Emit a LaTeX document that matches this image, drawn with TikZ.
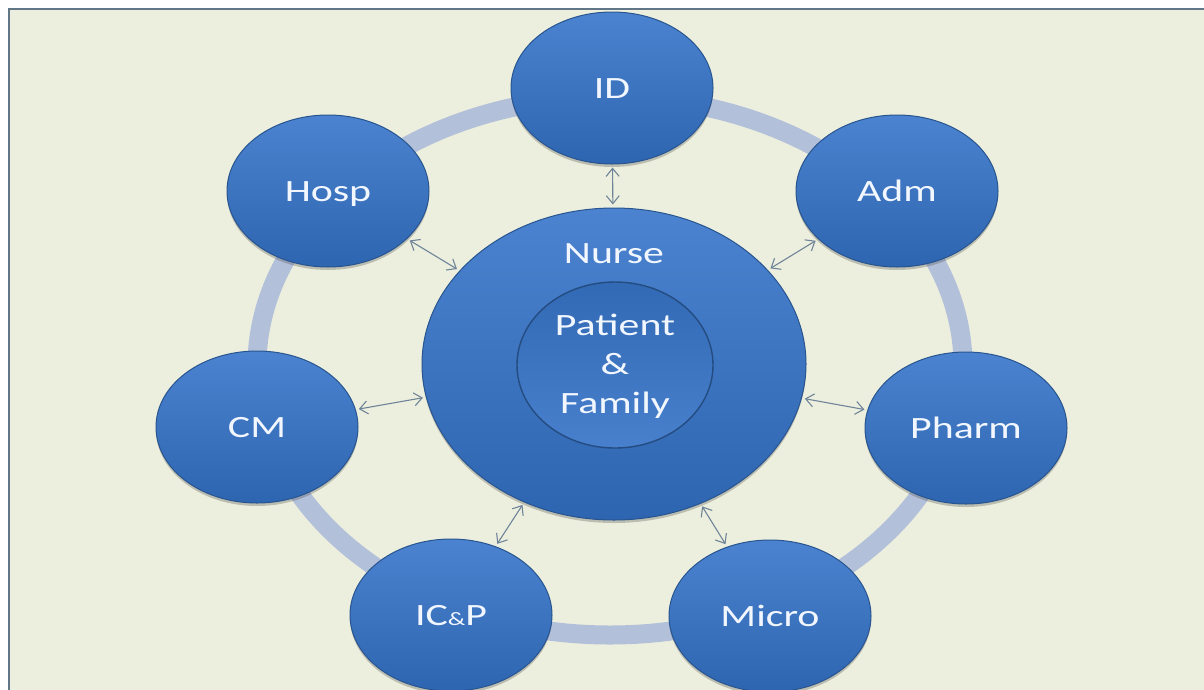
\documentclass[tikz,border=0pt]{standalone}
\usepackage{fontspec}
\newfontfamily\lbl[FakeStretch=1.35]{Carlito}
\usetikzlibrary{shapes.geometric,arrows.meta,shadows}
\definecolor{bgc}{HTML}{EDEFDE}
\definecolor{framec}{HTML}{617787}
\definecolor{ringc}{HTML}{B3C0DA}
\definecolor{topc}{HTML}{4B83D0}
\definecolor{botc}{HTML}{2E65B0}
\definecolor{edgec}{HTML}{28558F}
\definecolor{txtc}{HTML}{F2F7FF}
\definecolor{linkc}{HTML}{6F8498}
\tikzset{
  blob/.style={ellipse, inner sep=0pt, top color=topc, bottom color=botc,
    draw=edgec, line width=1pt,
    drop shadow={shadow xshift=0pt, shadow yshift=-3pt, opacity=0.3, fill=black!70}},
  sat/.style={blob, minimum width=202pt, minimum height=152pt,
    font=\lbl\fontsize{31}{36}\selectfont, text=txtc,
    text height=20pt, text depth=0pt},
  bigblob/.style={blob, minimum width=384pt, minimum height=312pt},
  innerblob/.style={ellipse, inner sep=0pt, minimum width=196pt, minimum height=166pt,
    top color=botc!85!topc, bottom color=topc!90!botc, draw=edgec!90!black, line width=1.4pt},
  lbltxt/.style={font=\lbl\fontsize{31}{39}\selectfont, text=txtc, align=center, inner sep=0pt},
  ring/.style={draw=ringc, line width=19pt},
  link/.style={draw=linkc, line width=1.1pt,
    {Straight Barb[length=8pt,width=13pt]}-{Straight Barb[length=8pt,width=13pt]},
    shorten >=3pt, shorten <=3pt}
}
\begin{document}
\begin{tikzpicture}[x=1pt,y=-1pt]
\useasboundingbox (0,0) rectangle (1204,689);
\clip (0,0) rectangle (1204,689);
\fill[white] (0,0) rectangle (1204,689);
\draw[fill=bgc, draw=framec, line width=2.5pt] (9,9) rectangle (1240,720);
\draw[ring] (610,366) ellipse [x radius=353, y radius=269];

\node[bigblob] (nurse) at (614,364) {};
\node[innerblob] (pfell) at (615,365) {};
\node[lbltxt] (nursetxt) at (614,254) {Nurse};
\node[lbltxt] (pftxt) at (615,366) {Patient\\\&\\Family};

\node[sat] (id)    at (612,88)  {ID};
\node[sat] (adm)   at (897,191) {Adm};
\node[sat] (pharm) at (966,428) {Pharm};
\node[sat] (micro) at (770,616) {Micro};
\node[sat] (icp)   at (451,615) {IC{\fontsize{19}{20}\selectfont\&}P};
\node[sat] (cm)    at (257,427) {CM};
\node[sat] (hosp)  at (328,191) {Hosp};

\draw[link] (id) -- (nurse);
\draw[link] (adm) -- (nurse);
\draw[link] (pharm) -- (nurse);
\draw[link] (micro) -- (nurse);
\draw[link] (icp) -- (nurse);
\draw[link] (cm) -- (nurse);
\draw[link] (hosp) -- (nurse);
\end{tikzpicture}
\end{document}
